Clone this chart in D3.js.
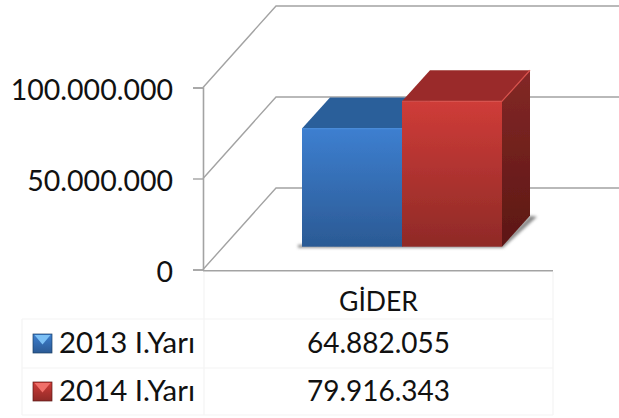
<!DOCTYPE html>
<html><head><meta charset="utf-8">
<script src="https://cdnjs.cloudflare.com/ajax/libs/d3/7.8.5/d3.min.js"></script>
<style>html,body{margin:0;background:#fff}svg{display:block}text{font-family:Lato,"Open Sans",sans-serif;fill:#111}</style>
</head><body><svg id="c" width="619" height="418"></svg>
<script>
const category = ["GİDER"];
const seriesNames = ["2013 I.Yarı", "2014 I.Yarı"];
const seriesValues = [64882055, 79916343];
const valueLabels = ["64.882.055", "79.916.343"];
const tickValues = [0, 50000000, 100000000];
const tickLabels = ["0", "50.000.000", "100.000.000"];

const frontColors = [["#3d7fd0", "#2b5a94"], ["#cf3c38", "#8f2a27"]];
const topColors = ["#2c5f9a", "#9a2c2a"];
const sideColors = [["#24507f", "#1c3f66"], ["#832826", "#5c1714"]];
const edgeColors = ["#4a8bd8", "#d8504b"];
const keyLight = ["#7cc0f5", "#f0706a"];

const svg = d3.select("#c");
const defs = svg.append("defs");
const grad = (id, c) => {
  const g = defs.append("linearGradient").attr("id", id).attr("x1", 0).attr("x2", 0).attr("y1", 0).attr("y2", 1);
  g.append("stop").attr("offset", 0).attr("stop-color", c[0]);
  g.append("stop").attr("offset", 1).attr("stop-color", c[1]);
};
frontColors.forEach((c, i) => grad("f" + i, c));
sideColors.forEach((c, i) => grad("s" + i, c));
const blur = defs.append("filter").attr("id", "soft").attr("x", "-20%").attr("y", "-20%").attr("width", "140%").attr("height", "140%");
blur.append("feGaussianBlur").attr("stdDeviation", 0.45);
const shadow = defs.append("filter").attr("id", "shadow").attr("x", "-20%").attr("y", "-50%").attr("width", "140%").attr("height", "200%");
shadow.append("feGaussianBlur").attr("stdDeviation", 1.5);

const y = d3.scaleLinear().domain([0, 100000000]).range([269.5, 87.5]);
const axisX = 203, tableRight = 553, wallDx = 73, wallDy = -81.5;
const gridColor = "#a3a3a3";

const grid = svg.append("g").attr("fill", "none").attr("stroke", gridColor).attr("stroke-width", 1.4);
tickValues.forEach(v => {
  grid.append("path").attr("d", d3.line()([
    [axisX, y(v)], [axisX + wallDx, y(v) + wallDy], [619, y(v) + wallDy]
  ]));
});
const axis = d3.axisLeft(y).tickValues(tickValues).tickSize(10)
  .tickFormat((d, i) => tickLabels[i]);
const ax = svg.append("g").attr("transform", `translate(${axisX},0)`).call(axis);
ax.selectAll("path.domain").attr("stroke", gridColor).attr("stroke-width", 1.6);
ax.selectAll("line").attr("stroke", gridColor).attr("stroke-width", 1.4);
ax.selectAll("text").attr("font-size", 28.5).attr("fill", "#111").attr("x", -30).attr("dy", "12px");
svg.append("path").attr("d", d3.line()([[axisX, y(0) + 1.3], [tableRight, y(0) + 1.3]]))
  .attr("stroke", gridColor).attr("stroke-width", 1.6).attr("fill", "none");

const rowLines = [319, 368, 415];
const table = svg.append("g").attr("stroke", "#f3f3f3").attr("stroke-width", 1.2).attr("fill", "none");
rowLines.forEach(v => table.append("line").attr("x1", 22).attr("x2", tableRight).attr("y1", v).attr("y2", v));
[[22, 319, 415], [204, 272, 415], [tableRight, 272, 415]].forEach(l =>
  table.append("line").attr("x1", l[0]).attr("x2", l[0]).attr("y1", l[1]).attr("y2", l[2]));

const x = d3.scaleBand().domain(seriesNames).range([302, 502]);
const baseShift = 22.8, barDx = 28, barDy = -31;
const h = y(0) - y(100000000);
const barY = d3.scaleLinear().domain([0, 100000000]).range([y(0) - baseShift, y(0) - baseShift - h]);
const bw = x.bandwidth();
const base = barY(0);
const xLast = x(seriesNames[1]) + bw;

svg.append("path").attr("filter", "url(#shadow)").attr("fill", "#8a8a8a")
  .attr("d", d3.line()([[x(seriesNames[0]) - 4, base + 1], [xLast + 1, base + 1],
    [xLast + barDx + 7, base + barDy + 1], [xLast + barDx, base + barDy], [xLast, base - 3], [x(seriesNames[0]) - 4, base - 2]]));

const bars = svg.selectAll("g.bar").data(seriesValues).join("g").attr("class", "bar").attr("filter", "url(#soft)");
bars.each(function (v, i) {
  const g = d3.select(this), x0 = x(seriesNames[i]), x1 = x0 + bw, t = barY(v);
  g.append("path").attr("fill", topColors[i]).attr("d", d3.line()([[x0, t], [x0 + barDx, t + barDy], [x1 + barDx, t + barDy], [x1, t]]));
  g.append("path").attr("fill", `url(#s${i})`).attr("d", d3.line()([[x1, t], [x1 + barDx, t + barDy], [x1 + barDx, base + barDy], [x1, base]]));
  g.append("rect").attr("x", x0).attr("y", t).attr("width", bw).attr("height", base - t).attr("fill", `url(#f${i})`);
  g.append("path").attr("fill", "none").attr("stroke", edgeColors[i]).attr("stroke-width", 1.2)
    .attr("d", d3.line()([[x0, t], [x1, t], [x1 + barDx, t + barDy]]));
});

svg.append("text").attr("x", 378.5).attr("y", 311).attr("text-anchor", "middle").attr("font-size", 26)
  .attr("textLength", 79).attr("lengthAdjust", "spacingAndGlyphs").text(category[0]);
const rowText = [352.7, 400.7];
const keyTop = [334, 382];
seriesNames.forEach((s, i) => {
  svg.append("text").attr("x", 59).attr("y", rowText[i]).attr("font-size", 28)
    .attr("textLength", 136).attr("lengthAdjust", "spacingAndGlyphs").text(s);
  svg.append("text").attr("x", 378.5).attr("y", rowText[i]).attr("text-anchor", "middle").attr("font-size", 28.5)
    .attr("textLength", 143).attr("lengthAdjust", "spacingAndGlyphs").text(valueLabels[i]);
  const kx = 33, ky = keyTop[i], ks = 19;
  svg.append("rect").attr("x", kx).attr("y", ky).attr("width", ks).attr("height", ks)
    .attr("fill", `url(#f${i})`).attr("stroke", sideColors[i][1]).attr("stroke-width", 0.7);
  svg.append("path").attr("d", d3.line()([[kx + 1.5, ky + 1], [kx + ks - 1.5, ky + 1], [kx + ks / 2, ky + ks / 2 + 1]]))
    .attr("fill", keyLight[i]);
});
</script></body></html>
